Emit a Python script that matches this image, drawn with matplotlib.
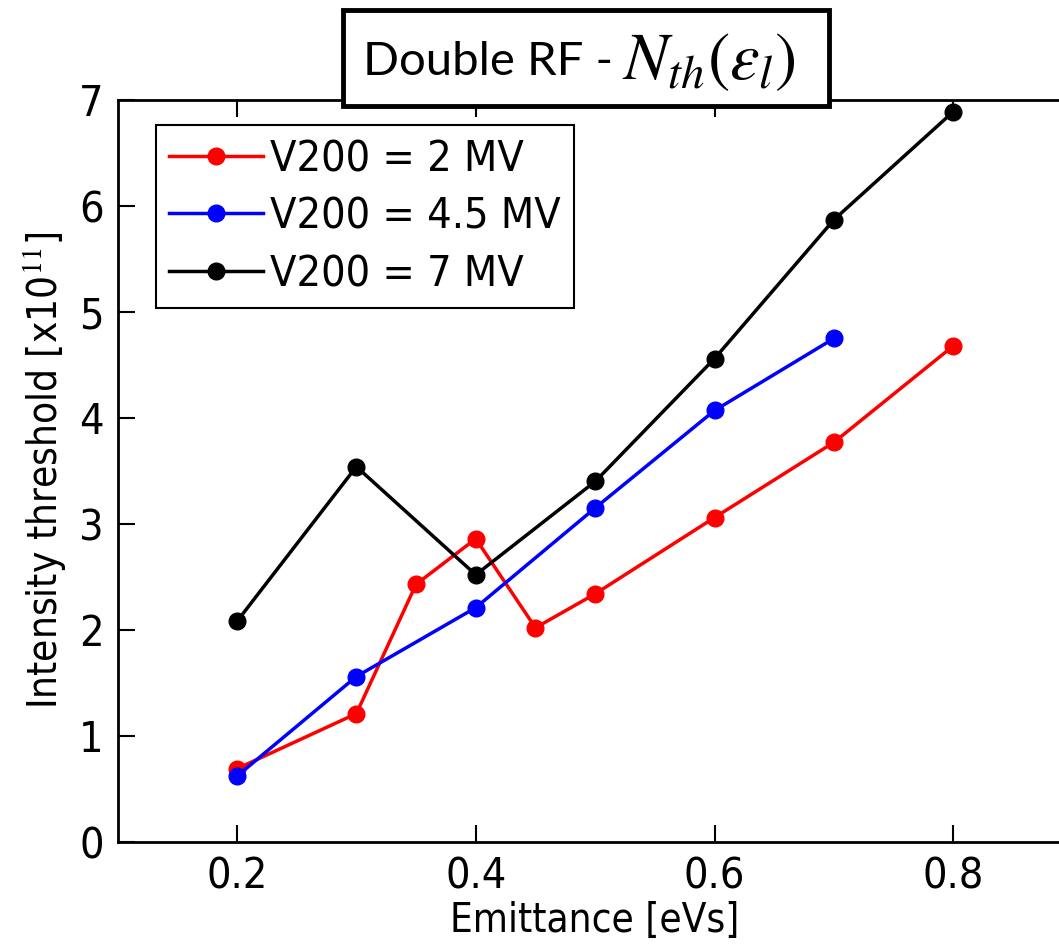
import numpy as np
import matplotlib.pyplot as plt
from matplotlib.patches import Rectangle
from matplotlib import font_manager

plt.rcParams['mathtext.fontset'] = 'stix'

# data
x_2mv = [0.2, 0.3, 0.35, 0.4, 0.45, 0.5, 0.6, 0.7, 0.8]
y_2mv = [0.69, 1.21, 2.43, 2.86, 2.02, 2.34, 3.06, 3.77, 4.68]

x_45mv = [0.2, 0.3, 0.4, 0.5, 0.6, 0.7]
y_45mv = [0.62, 1.56, 2.21, 3.15, 4.07, 4.75]

x_7mv = [0.2, 0.3, 0.4, 0.5, 0.6, 0.7, 0.8]
y_7mv = [2.08, 3.54, 2.52, 3.40, 4.56, 5.87, 6.89]

labels = ['V200 = 2 MV', 'V200 = 4.5 MV', 'V200 = 7 MV']
xticks = [0.2, 0.4, 0.6, 0.8]
yticks = [0, 1, 2, 3, 4, 5, 6, 7]

fp = dict(family='DejaVu Sans', stretch='condensed')

fig = plt.figure(figsize=(10.59, 9.47), dpi=100, facecolor='w')
ax = fig.add_axes([0.111, 0.111, 0.902, 0.7835])

ax.plot(x_2mv, y_2mv, '-o', color='#ff0000', lw=2.5, ms=12, label=labels[0])
ax.plot(x_45mv, y_45mv, '-o', color='#0000ff', lw=2.5, ms=12, label=labels[1])
ax.plot(x_7mv, y_7mv, '-o', color='black', lw=2.5, ms=12, label=labels[2])

ax.set_xlim(0.1, 0.9)
ax.set_ylim(0, 7)
ax.set_xticks(xticks)
ax.set_yticks(yticks)
ax.set_xticklabels(['0.2', '0.4', '0.6', '0.8'], fontsize=31, **fp)
ax.set_yticklabels([str(t) for t in yticks], fontsize=31, **fp)
ax.tick_params(direction='in', length=12, width=1.5, top=True, right=False, pad=10)
for s in ax.spines.values():
    s.set_linewidth(2)

ax.set_xlabel('Emittance [eVs]', fontsize=29, labelpad=2, **fp)
ax.set_ylabel('Intensity threshold [x10$^{11}$]', fontsize=29, labelpad=8, **fp)

leg = ax.legend(loc='upper left', bbox_to_anchor=(0.04, 0.966), borderaxespad=0,
                prop=font_manager.FontProperties(family='DejaVu Sans', stretch='condensed', size=31),
                handlelength=2.2, handletextpad=0.15, borderpad=0.3, labelspacing=0.36,
                fancybox=False, edgecolor='black', framealpha=1)
leg.get_frame().set_linewidth(1.5)

# title box
fig.patches.append(Rectangle((343 / 1059, 1 - 106 / 947), 486 / 1059, 96 / 947,
                             transform=fig.transFigure, fc='white', ec='black', lw=3.5, zorder=5))
fig.text(363 / 1059, 1 - 62 / 947, 'Double RF - ', family='Lato', fontsize=34,
         ha='left', va='center', zorder=6)
fig.text(622 / 1059, 1 - 60 / 947, r'$N_{th}(\varepsilon_l)$', fontsize=48,
         ha='left', va='center', zorder=6)

plt.savefig('out.png', dpi=100)
